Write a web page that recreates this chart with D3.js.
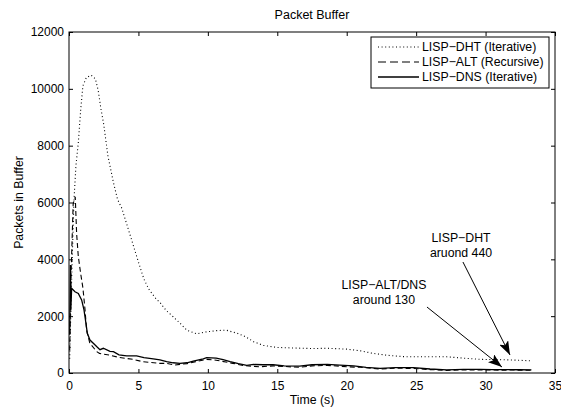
<!DOCTYPE html>
<html lang="en">
  <head>
    <meta charset="UTF-8" />
    <title>Packet Buffer</title>
    <script src="https://d3js.org/d3.v7.min.js"></script>
    <style>
      body {
        margin: 0;
        padding: 0;
        background-color: #ffffff;
      }
      svg text {
        font-family: "Liberation Sans", Arial, sans-serif;
        fill: #000;
      }
    </style>
  </head>
  <body>
    <div id="chart"></div>

    <script>
      const width = 561;
      const height = 410;
      const margin = { top: 32, right: 6, bottom: 37, left: 69 };

      // series: [time (s), packets in buffer]
      const dht = [
        [0.05, 500], [0.2, 3500], [0.36, 6100], [0.5, 7300], [0.67, 8100],
        [0.84, 9250], [1.0, 10100], [1.25, 10400], [1.6, 10480], [1.9, 10350],
        [2.1, 9950], [2.3, 9300], [2.5, 8750], [2.8, 7650], [3.2, 6700],
        [3.5, 6100], [3.8, 5800], [4.15, 5250], [4.5, 4700], [4.75, 4300],
        [5.1, 3750], [5.4, 3300], [5.75, 2950], [6.2, 2650], [6.6, 2450],
        [7.0, 2200], [7.5, 1980], [8.0, 1750], [8.5, 1500], [9.2, 1380],
        [9.8, 1440], [10.6, 1490], [11.3, 1510], [12.1, 1400], [12.7, 1280],
        [13.3, 1100], [14.0, 970], [15.0, 900], [16.2, 880], [17.5, 860],
        [18.6, 870], [20.0, 840], [21.0, 780], [21.9, 690], [23.0, 620],
        [24.1, 575], [25.5, 570], [27.2, 570], [28.5, 520], [29.6, 480],
        [31.0, 470], [32.0, 455], [33.3, 430]
      ];

      const alt = [
        [0.05, 800], [0.15, 3500], [0.3, 5950], [0.45, 6200], [0.55, 4900],
        [0.67, 4100], [0.84, 3500], [1.0, 3000], [1.15, 2250], [1.27, 1500],
        [1.5, 1050], [2.0, 750], [2.2, 690], [2.9, 630], [3.5, 560],
        [4.15, 510], [4.6, 480], [5.3, 400], [6.5, 340], [7.0, 340],
        [7.6, 280], [8.5, 330], [9.3, 420], [9.9, 480], [10.6, 450],
        [11.8, 340], [12.6, 260], [13.7, 220], [14.7, 250], [15.5, 230],
        [16.6, 200], [17.5, 250], [18.6, 270], [20.0, 220], [21.0, 200],
        [22.4, 140], [23.5, 170], [24.8, 160], [26.0, 120], [27.2, 90],
        [28.5, 110], [29.6, 110], [31.0, 100], [32.0, 105], [33.3, 95]
      ];

      const dns = [
        [0.05, 1350], [0.1, 3800], [0.13, 2200], [0.19, 2980], [0.43, 2860],
        [0.67, 2800], [0.91, 2570], [1.08, 2220], [1.22, 1750], [1.32, 1400],
        [1.51, 1160], [1.99, 930], [2.23, 820], [2.47, 870], [2.95, 760],
        [3.2, 750], [3.6, 640], [4.15, 600], [4.6, 600], [4.87, 600],
        [5.4, 540], [6.07, 500], [6.55, 460], [7.03, 400], [7.5, 360],
        [7.99, 340], [8.5, 360], [8.95, 420], [9.67, 500], [9.91, 540],
        [10.6, 520], [11.1, 470], [11.6, 400], [12.2, 330], [12.8, 270],
        [13.3, 300], [14.0, 290], [14.7, 290], [15.5, 250], [16.6, 240],
        [17.5, 290], [18.6, 300], [19.5, 280], [20.5, 250], [21.4, 200],
        [22.4, 165], [23.5, 190], [24.8, 190], [26.0, 140], [27.2, 110],
        [28.4, 125], [29.6, 130], [30.5, 120], [31.5, 120], [32.4, 115],
        [33.3, 110]
      ];

      const seriesNames = [
        "LISP\u2212DHT (Iterative)",
        "LISP\u2212ALT (Recursive)",
        "LISP\u2212DNS (Iterative)"
      ];
      const xTicks = [0, 5, 10, 15, 20, 25, 30, 35];
      const yTicks = [0, 2000, 4000, 6000, 8000, 10000, 12000];

      // annotation text anchor (time, packets) and arrow start/end
      const noteLines = [
        ["LISP\u2212DHT", "aruond 440"],
        ["LISP\u2212ALT/DNS", "around 130"]
      ];
      const noteAnchors = [[28.23, 4750], [22.68, 3096]];
      const arrowFrom = [[28.37, 3906], [25.78, 2322]];
      const arrowTo = [[31.76, 633], [31.18, 211]];

      const styles = [
        { dash: "1,2.6", width: 1.1 },
        { dash: "5,3", width: 1.1 },
        { dash: null, width: 1.3 }
      ];

      const svg = d3
        .select("#chart")
        .append("svg")
        .attr("width", width)
        .attr("height", height);

      svg.append("rect").attr("width", width).attr("height", height).attr("fill", "#fff");

      const x = d3.scaleLinear().domain([0, 35]).range([margin.left, width - margin.right]);
      const y = d3.scaleLinear().domain([0, 12000]).range([height - margin.bottom, margin.top]);

      // plot frame
      svg
        .append("rect")
        .attr("x", x(0))
        .attr("y", y(12000))
        .attr("width", x(35) - x(0))
        .attr("height", y(0) - y(12000))
        .attr("fill", "none")
        .attr("stroke", "#000")
        .attr("stroke-width", 1);

      // inward ticks, MATLAB style
      const xAxis = d3.axisBottom(x).tickValues(xTicks).tickSize(-4).tickPadding(8).tickFormat(d3.format("d"));
      const yAxis = d3.axisLeft(y).tickValues(yTicks).tickSize(-4).tickPadding(5).tickFormat(d3.format("d"));

      const gx = svg.append("g").attr("transform", `translate(0,${y(0)})`).call(xAxis);
      const gy = svg.append("g").attr("transform", `translate(${x(0)},0)`).call(yAxis);
      const gx2 = svg
        .append("g")
        .attr("transform", `translate(0,${y(12000)})`)
        .call(d3.axisTop(x).tickValues(xTicks).tickSize(-4).tickFormat(""));
      const gy2 = svg
        .append("g")
        .attr("transform", `translate(${x(35)},0)`)
        .call(d3.axisRight(y).tickValues(yTicks).tickSize(-4).tickFormat(""));

      [gx, gy, gx2, gy2].forEach((g) => {
        g.select(".domain").remove();
        g.selectAll("line").attr("stroke", "#000");
        g.selectAll("text")
          .attr("font-size", 12)
          .attr("fill", "#000")
          .style("font-family", '"Liberation Sans", Arial, sans-serif');
      });

      // lines
      const line = d3
        .line()
        .x((d) => x(d[0]))
        .y((d) => y(d[1]));

      [dht, alt, dns].forEach((data, i) => {
        svg
          .append("path")
          .datum(data)
          .attr("d", line)
          .attr("fill", "none")
          .attr("stroke", "#000")
          .attr("stroke-width", styles[i].width)
          .attr("stroke-dasharray", styles[i].dash);
      });

      // titles
      svg
        .append("text")
        .attr("x", (x(0) + x(35)) / 2)
        .attr("y", 19)
        .attr("text-anchor", "middle")
        .attr("font-size", 12.5)
        .text("Packet Buffer");

      svg
        .append("text")
        .attr("x", (x(0) + x(35)) / 2)
        .attr("y", 404)
        .attr("text-anchor", "middle")
        .attr("font-size", 12.3)
        .text("Time (s)");

      svg
        .append("text")
        .attr("transform", `translate(22.5,${(y(0) + y(12000)) / 2}) rotate(-90)`)
        .attr("text-anchor", "middle")
        .attr("font-size", 12.3)
        .text("Packets in Buffer");

      // legend
      const legend = svg.append("g").attr("transform", "translate(371,37)");
      legend
        .append("rect")
        .attr("width", 178)
        .attr("height", 51)
        .attr("fill", "#fff")
        .attr("stroke", "#000")
        .attr("stroke-width", 1);

      seriesNames.forEach((name, i) => {
        const row = legend.append("g").attr("transform", `translate(0,${10 + i * 15})`);
        row
          .append("line")
          .attr("x1", 7)
          .attr("x2", 48)
          .attr("stroke", "#000")
          .attr("stroke-width", styles[i].width)
          .attr("stroke-dasharray", i === 1 ? "8,4" : styles[i].dash);
        row
          .append("text")
          .attr("x", 51)
          .attr("y", 4.4)
          .attr("font-size", 12.3)
          .text(name);
      });

      // annotations
      svg
        .append("defs")
        .append("marker")
        .attr("id", "arrow")
        .attr("viewBox", "0 0 14 10")
        .attr("refX", 14)
        .attr("refY", 5)
        .attr("markerWidth", 14)
        .attr("markerHeight", 10)
        .attr("markerUnits", "userSpaceOnUse")
        .attr("orient", "auto")
        .append("path")
        .attr("d", "M0,0 L14,5 L0,10 L3,5 z")
        .attr("fill", "#000");

      noteLines.forEach((lines, i) => {
        svg
          .append("line")
          .attr("x1", x(arrowFrom[i][0]))
          .attr("y1", y(arrowFrom[i][1]))
          .attr("x2", x(arrowTo[i][0]))
          .attr("y2", y(arrowTo[i][1]))
          .attr("stroke", "#000")
          .attr("stroke-width", 1)
          .attr("marker-end", "url(#arrow)");

        lines.forEach((t, j) => {
          svg
            .append("text")
            .attr("x", x(noteAnchors[i][0]))
            .attr("y", y(noteAnchors[i][1]) + 4.4 + j * 15)
            .attr("text-anchor", "middle")
            .attr("font-size", 12.3)
            .text(t);
        });
      });
    </script>
  </body>
</html>
